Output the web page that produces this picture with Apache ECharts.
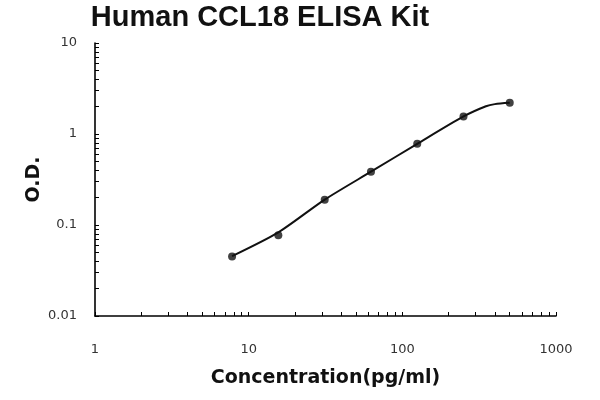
<!DOCTYPE html>
<html>
<head>
<meta charset="utf-8">
<script src="https://cdn.jsdelivr.net/npm/echarts@6/dist/echarts.min.js"></script>
<style>html,body{margin:0;padding:0;background:#fff;}#c{width:600px;height:400px;}</style>
</head>
<body>
<div id="c"></div>
<script>
var titleText = "Human CCL18 ELISA Kit";
var xName = "Concentration(pg/ml)";
var yName = "O.D.";
// measured standards
var concentration = [7.8, 15.6, 31.25, 62.5, 125, 250, 500];
var odValues = [0.045, 0.077, 0.19, 0.385, 0.78, 1.56, 2.2];
// fitted curve
var curveX = [7.8, 15.6, 31.25, 62.5, 125, 250, 350, 400, 500];
var curveY = [0.0455, 0.083, 0.19, 0.385, 0.78, 1.56, 2.02, 2.13, 2.2];
var xLabelValues = [1, 10, 100, 1000];
var yLabelValues = [0.01, 0.1, 1, 10];
var xTickValues = [1,2,3,4,5,6,7,8,9,10,20,30,40,50,60,70,80,90,100,200,300,400,500,600,700,800,900,1000];
var yTickValues = [0.01,0.02,0.03,0.04,0.05,0.06,0.07,0.08,0.09,0.1,0.2,0.3,0.4,0.5,0.6,0.7,0.8,0.9,1,2,3,4,5,6,7,8,9,10];

var chart = echarts.init(document.getElementById('c'), null, {renderer: 'canvas'});
var points = concentration.map(function (c, i) { return [c, odValues[i]]; });
var curve = curveX.map(function (c, i) { return [c, curveY[i]]; });
var labelFmt = function (v) {
  if (v >= 1) return String(Math.round(v));
  return String(parseFloat(v.toPrecision(2)));
};
chart.setOption({
  animation: false,
  backgroundColor: '#ffffff',
  title: {
    text: titleText,
    left: 255, top: -2, textAlign: 'center',
    textStyle: {fontFamily: 'Liberation Sans', fontWeight: 'bold', fontSize: 29, color: '#111'}
  },
  grid: {left: 95, right: 44, top: 43, bottom: 84, containLabel: false},
  xAxis: {
    type: 'log', logBase: 10, min: 1, max: 1000,
    name: xName, nameLocation: 'middle', nameGap: 53, nameMoveOverlap: false,
    nameTextStyle: {fontFamily: 'DejaVu Sans', fontWeight: 'bold', fontSize: 19, color: '#111'},
    axisLine: {show: true, lineStyle: {color: '#000', width: 1.6}},
    axisTick: {show: true, inside: true, length: 4, lineStyle: {color: '#000', width: 1}, customValues: xTickValues},
    axisLabel: {margin: 27, fontFamily: 'DejaVu Sans', fontSize: 13, color: '#333', customValues: xLabelValues, formatter: labelFmt},
    splitLine: {show: false}, minorTick: {show: false}
  },
  yAxis: {
    type: 'log', logBase: 10, min: 0.01, max: 10,
    name: yName, nameLocation: 'middle', nameGap: 51, nameRotate: 90, nameMoveOverlap: false,
    nameTextStyle: {fontFamily: 'DejaVu Sans', fontWeight: 'bold', fontSize: 19, color: '#111'},
    axisLine: {show: true, lineStyle: {color: '#000', width: 1.6}},
    axisTick: {show: true, inside: true, length: 4, lineStyle: {color: '#000', width: 1}, customValues: yTickValues},
    axisLabel: {margin: 18, fontFamily: 'DejaVu Sans', fontSize: 13, color: '#333', customValues: yLabelValues, formatter: labelFmt},
    splitLine: {show: false}, minorTick: {show: false}
  },
  series: [{
    type: 'line',
    data: curve,
    smooth: 0.25,
    showSymbol: false, symbol: 'none',
    lineStyle: {color: '#111', width: 2}
  }, {
    type: 'scatter',
    data: points,
    symbol: 'circle', symbolSize: 8,
    itemStyle: {color: '#111'}
  }]
});
</script>
</body>
</html>
